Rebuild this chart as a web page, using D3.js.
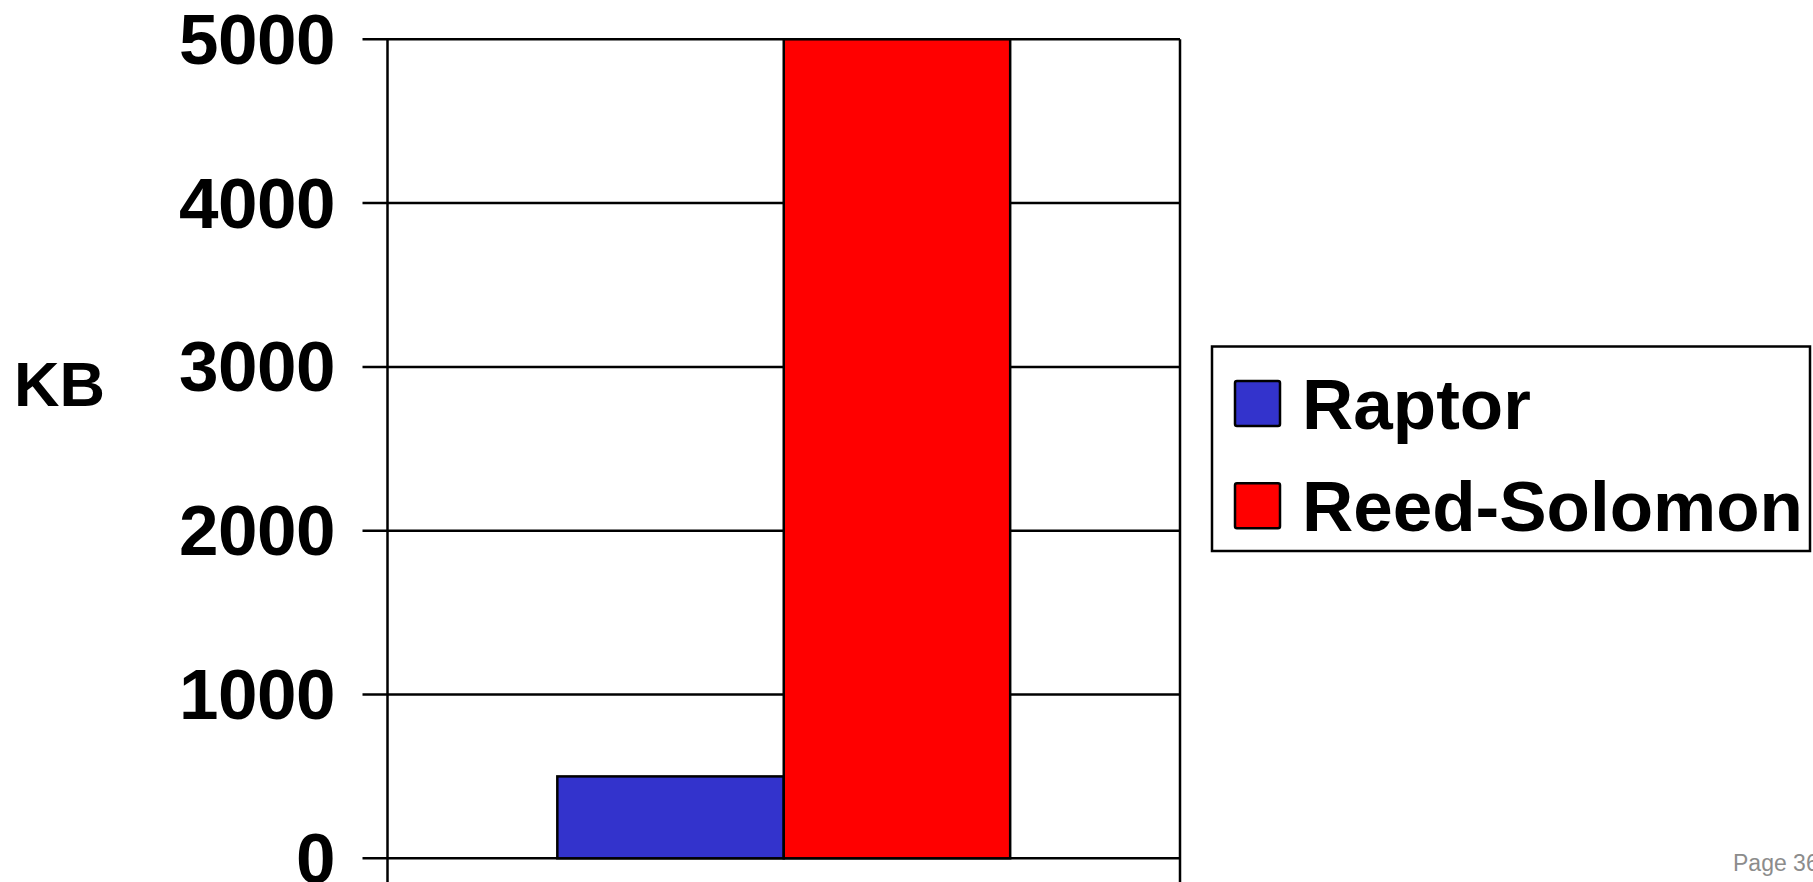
<!DOCTYPE html>
<html>
<head>
<meta charset="utf-8">
<script src="https://cdn.jsdelivr.net/npm/d3@7"></script>
<style>
  html, body { margin: 0; padding: 0; background: #fff; overflow: hidden; }
  svg { display: block; font-family: "Liberation Sans", Arial, sans-serif; }
</style>
</head>
<body>
<svg id="chart" width="1813" height="882"></svg>
<script>
// Chart data
const categories = ["Memory"];
const seriesNames = ["Raptor", "Reed-Solomon"];
const seriesColors = ["#3333CC", "#FF0000"];
const raptorValues = [500];
const reedSolomonValues = [5000];
const yTicks = [0, 1000, 2000, 3000, 4000, 5000];
const yLabel = "KB";
const pageLabel = "Page 36";

const seriesValues = [raptorValues, reedSolomonValues];

const svg = d3.select("#chart");

// Plot frame
const plotLeft = 387.5, plotRight = 1180, plotTop = 39.3, plotBottom = 858.3;

const y = d3.scaleLinear().domain([0, 5000]).range([plotBottom, plotTop]);

const x0 = d3.scaleBand().domain(categories).range([plotLeft, plotRight])
  .paddingInner(0).paddingOuter(0);

// 150% gap width: 0.75 bar width of padding on each side of the bar group
const x1 = d3.scaleBand().domain(seriesNames).range([0, x0.bandwidth()])
  .paddingInner(0).paddingOuter(0.75);

// Horizontal gridlines with short ticks to the left of the axis
svg.append("g")
  .selectAll("line")
  .data(yTicks)
  .join("line")
  .attr("x1", plotLeft - 25)
  .attr("x2", plotRight)
  .attr("y1", d => y(d))
  .attr("y2", d => y(d))
  .attr("stroke", "#000")
  .attr("stroke-width", 2.5);

// Bars
const barData = [];
categories.forEach((c, ci) => {
  seriesNames.forEach((s, si) => {
    barData.push({ cat: c, series: s, value: seriesValues[si][ci], color: seriesColors[si] });
  });
});

svg.append("g")
  .selectAll("rect")
  .data(barData)
  .join("rect")
  .attr("x", d => x0(d.cat) + x1(d.series))
  .attr("y", d => y(d.value))
  .attr("width", x1.bandwidth())
  .attr("height", d => y(0) - y(d.value))
  .attr("fill", d => d.color)
  .attr("stroke", "#000")
  .attr("stroke-width", 2.5);

// Vertical axis and category boundary lines, extending below the baseline
const boundaries = [plotLeft, plotRight];
svg.append("g")
  .selectAll("line")
  .data(boundaries)
  .join("line")
  .attr("x1", d => d)
  .attr("x2", d => d)
  .attr("y1", plotTop)
  .attr("y2", plotBottom + 26)
  .attr("stroke", "#000")
  .attr("stroke-width", 2.5);

// Y tick labels
svg.append("g")
  .selectAll("text")
  .data(yTicks)
  .join("text")
  .attr("x", 335)
  .attr("y", d => y(d) + 24.5)
  .attr("text-anchor", "end")
  .attr("font-size", 71)
  .attr("font-weight", "bold")
  .attr("letter-spacing", -0.5)
  .attr("fill", "#000")
  .text(d => d);

// Y axis title
svg.append("text")
  .attr("x", 14)
  .attr("y", 405.7)
  .attr("font-size", 63)
  .attr("font-weight", "bold")
  .attr("fill", "#000")
  .text(yLabel);

// Legend
const legend = svg.append("g");
legend.append("rect")
  .attr("x", 1212).attr("y", 346.5)
  .attr("width", 598).attr("height", 204.5)
  .attr("fill", "#fff").attr("stroke", "#000").attr("stroke-width", 2.5);

const legendRows = legend.selectAll("g.row")
  .data(seriesNames)
  .join("g")
  .attr("class", "row")
  .attr("transform", (d, i) => `translate(0, ${i * 102.3})`);

legendRows.append("rect")
  .attr("x", 1235).attr("y", 381)
  .attr("width", 45).attr("height", 45)
  .attr("rx", 2)
  .attr("fill", (d, i) => seriesColors[i])
  .attr("stroke", "#000").attr("stroke-width", 2.5);

legendRows.append("text")
  .attr("x", 1302).attr("y", 429)
  .attr("font-size", 71)
  .attr("font-weight", "bold")
  .attr("fill", "#000")
  .text(d => d);

// Page footer
svg.append("text")
  .attr("x", 1733).attr("y", 870.7)
  .attr("font-size", 23)
  .attr("fill", "#8c8c8c")
  .text(pageLabel);
</script>
</body>
</html>
